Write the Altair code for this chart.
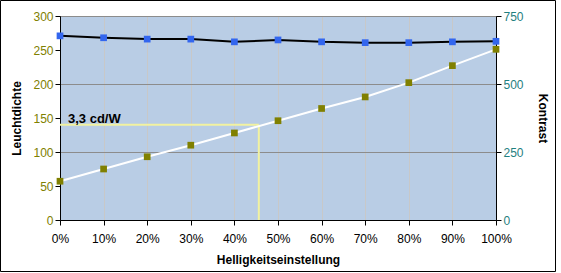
import altair as alt
import pandas as pd

# Data
setting = [0.0, 0.1, 0.2, 0.3, 0.4, 0.5, 0.6, 0.7, 0.8, 0.9, 1.0]
leuchtdichte = [57, 75, 93, 110, 128, 146, 164, 181, 202, 227, 251]
kontrast = [677, 670, 665, 665, 655, 662, 655, 652, 652, 655, 657]
left_ticks = [0, 50, 100, 150, 200, 250, 300]
right_ticks = [0, 250, 500, 750]

# Annotation (3,3 cd/W) marker lines
anno_x = [0.456]
anno_y = [140]
anno_label = ["3,3 cd/W"]

FONT = "Liberation Sans"
OLIVE = "#808000"
BLUE = "#3366EE"

df = pd.DataFrame({"setting": setting, "leucht": leuchtdichte, "kontrast": kontrast})
anno = pd.DataFrame({"x": anno_x, "y": anno_y, "label": anno_label, "x0": [0.0], "y0": [0]})

xscale = alt.Scale(domain=[0, 1], nice=False, zero=False)
xaxis = alt.Axis(
    title="Helligkeitseinstellung", format=".0%", values=setting,
    grid=True, gridColor="#C8C8C8", gridWidth=1, gridOpacity=1,
    labelFlush=False, labelOverlap=False,
    domainColor="black", tickColor="black", tickSize=5,
    labelColor="black", labelFont=FONT, labelFontSize=12, labelPadding=8,
    titleFont=FONT, titleFontSize=12, titleFontWeight="bold", titleColor="black",
    titlePadding=10,
)
left_scale = alt.Scale(domain=[0, 300], nice=False)
left_axis = alt.Axis(
    title="Leuchtdichte", values=left_ticks, grid=False,
    labelOverlap=False, labelFlush=False,
    domainColor="black", tickColor="black", tickSize=5,
    labelColor=OLIVE, labelFont=FONT, labelFontSize=12, labelPadding=2,
    titleFont=FONT, titleFontSize=12, titleFontWeight="bold", titleColor="black",
    titlePadding=9,
)
right_scale = alt.Scale(domain=[0, 750], nice=False)
right_axis = alt.Axis(
    title="Kontrast", orient="right", values=right_ticks,
    grid=True, gridColor="#8C8C8C", gridWidth=1, gridOpacity=1,
    labelOverlap=False, labelFlush=False,
    domainColor="black", tickColor="black", tickSize=5,
    labelColor="#1F8080", labelFont=FONT, labelFontSize=12, labelPadding=2,
    titleFont=FONT, titleFontSize=12, titleFontWeight="bold", titleColor="black",
    titlePadding=12,
)


def X(field):
    return alt.X(field, type="quantitative", scale=xscale, axis=xaxis)


def YL(field):
    return alt.Y(field, type="quantitative", scale=left_scale, axis=left_axis)


def YR(field):
    return alt.Y(field, type="quantitative", scale=right_scale, axis=right_axis)


# Outer chart frame (decoration, like the Excel chart-area border)
frame = alt.Chart(anno).mark_rect(
    fill=None, stroke="black", strokeWidth=1, clip=False
).encode(
    x=alt.value(-59.5), x2=alt.value(495.5), y=alt.value(-15.5), y2=alt.value(255.5)
)

# Left axis layer: Leuchtdichte + annotation
leucht_line = alt.Chart(df).mark_line(color="white", strokeWidth=2).encode(
    x=X("setting"), y=YL("leucht")
)
leucht_pts = alt.Chart(df).mark_square(color=OLIVE, size=45, opacity=1).encode(
    x=X("setting"), y=YL("leucht")
)
hline = alt.Chart(anno).mark_rule(color="#F2F2A0", strokeWidth=2).encode(
    x=X("x0"), x2="x:Q", y=YL("y")
)
vline = alt.Chart(anno).mark_rule(color="#F2F2A0", strokeWidth=2).encode(
    x=X("x"), y=YL("y0"), y2="y:Q"
)
label = alt.Chart(anno).mark_text(
    align="left", baseline="alphabetic", dx=8, dy=-2, font=FONT, fontSize=13,
    fontWeight="bold", color="black"
).encode(x=X("x0"), y=YL("y"), text="label:N")
left_layer = alt.layer(hline, vline, leucht_line, leucht_pts, label)

# Right axis layer: Kontrast
k_line = alt.Chart(df).mark_line(color="black", strokeWidth=2).encode(
    x=X("setting"), y=YR("kontrast")
)
k_pts = alt.Chart(df).mark_square(color=BLUE, size=45, opacity=1).encode(
    x=X("setting"), y=YR("kontrast")
)
right_layer = alt.layer(k_line, k_pts, frame)

chart = (
    alt.layer(left_layer, right_layer)
    .resolve_scale(y="independent")
    .properties(
        width=436, height=204,
        autosize=alt.AutoSizeParams(type="none"),
        padding={"left": 60, "top": 16, "right": 65, "bottom": 53},
        background="white",
    )
    .configure_view(fill="#B9CDE5", stroke="black", strokeWidth=1)
)

chart.save("out.html", embed_options={"renderer": "svg", "actions": False})
